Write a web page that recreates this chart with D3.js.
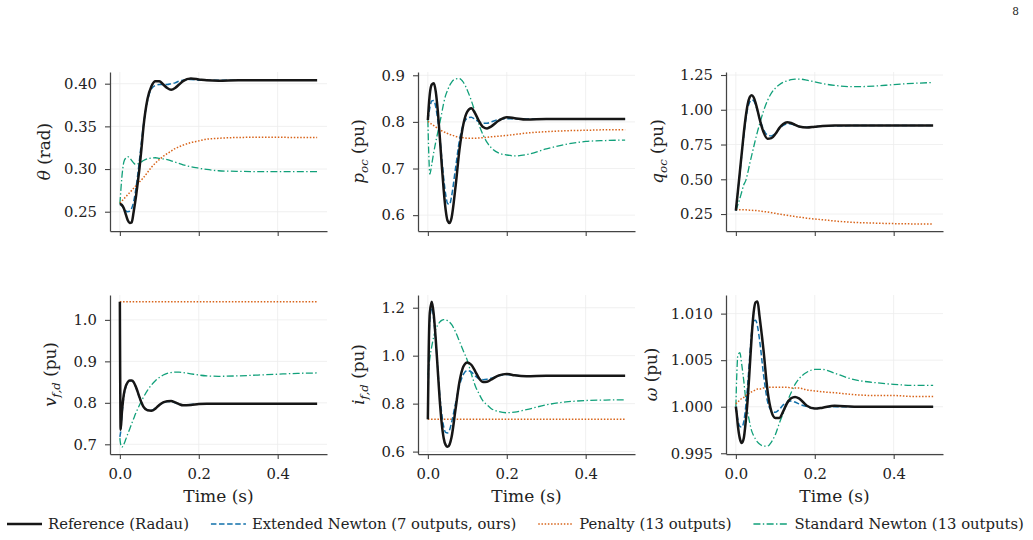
<!DOCTYPE html>
<html>
<head>
<meta charset="utf-8">
<script src="https://cdn.jsdelivr.net/npm/d3@7"></script>
<style>
body { margin: 0; background: #fff; }
svg { display: block; font-family: "DejaVu Serif", serif; }
</style>
</head>
<body>
<svg id="fig" width="1033" height="540"></svg>
<script>
// time grid (s)
let T = [0, 0.002, 0.005, 0.01, 0.015, 0.02, 0.025, 0.03, 0.035, 0.04, 0.045, 0.05, 0.055, 0.06,
         0.07, 0.08, 0.09, 0.1, 0.11, 0.12, 0.13, 0.14, 0.15, 0.16, 0.18, 0.2, 0.22, 0.25,
         0.3, 0.35, 0.4, 0.45, 0.5];

// theta (rad)
let thetaRef = [0.259, 0.2588, 0.258, 0.254, 0.247, 0.240, 0.2368, 0.2375, 0.25, 0.265, 0.283, 0.302, 0.325, 0.35,
                0.382, 0.397, 0.403, 0.403, 0.399, 0.395, 0.393, 0.395, 0.399, 0.403, 0.406, 0.405, 0.404, 0.4035,
                0.404, 0.404, 0.404, 0.404, 0.404];
let thetaExt = [0.259, 0.2585, 0.257, 0.254, 0.251, 0.25, 0.2505, 0.254, 0.262, 0.275, 0.292, 0.312, 0.333, 0.352,
                0.38, 0.394, 0.398, 0.399, 0.399, 0.399, 0.4, 0.401, 0.403, 0.404, 0.405, 0.404, 0.404, 0.404,
                0.404, 0.404, 0.404, 0.404, 0.404];
let thetaPen = [0.26, 0.261, 0.2625, 0.265, 0.2675, 0.27, 0.2725, 0.275, 0.2775, 0.28, 0.2825, 0.285, 0.2875, 0.29,
                0.296, 0.302, 0.307, 0.311, 0.315, 0.318, 0.321, 0.324, 0.326, 0.328, 0.331, 0.333, 0.335, 0.336,
                0.337, 0.3372, 0.3372, 0.337, 0.337];
let thetaStd = [0.259, 0.272, 0.29, 0.308, 0.313, 0.3145, 0.313, 0.31, 0.307, 0.3055, 0.306, 0.307, 0.3085, 0.31,
                0.312, 0.313, 0.3132, 0.3125, 0.3118, 0.311, 0.3095, 0.308, 0.3065, 0.305, 0.3027, 0.301, 0.2995, 0.298,
                0.2973, 0.297, 0.297, 0.297, 0.297];

// p_oc (pu)
let pRef = [0.804, 0.83, 0.86, 0.88, 0.883, 0.865, 0.825, 0.77, 0.71, 0.655, 0.612, 0.588, 0.583, 0.594,
            0.66, 0.74, 0.795, 0.822, 0.829, 0.818, 0.801, 0.789, 0.786, 0.79, 0.803, 0.81, 0.808, 0.805,
            0.806, 0.806, 0.806, 0.806, 0.806];
let pExt = [0.804, 0.815, 0.83, 0.845, 0.846, 0.832, 0.805, 0.77, 0.725, 0.68, 0.645, 0.625, 0.623, 0.64,
            0.7, 0.76, 0.795, 0.808, 0.81, 0.805, 0.8, 0.797, 0.797, 0.8, 0.805, 0.807, 0.806, 0.806,
            0.806, 0.806, 0.806, 0.806, 0.806];
let pPen = [0.801, 0.8, 0.798, 0.795, 0.792, 0.789, 0.786, 0.783, 0.781, 0.779, 0.777, 0.775, 0.773, 0.772,
            0.769, 0.767, 0.766, 0.765, 0.765, 0.765, 0.7655, 0.766, 0.767, 0.768, 0.7695, 0.771, 0.773, 0.776,
            0.779, 0.781, 0.782, 0.783, 0.783];
let pStd = [0.804, 0.74, 0.688, 0.71, 0.735, 0.757, 0.777, 0.797, 0.818, 0.84, 0.857, 0.868, 0.878, 0.885,
            0.892, 0.893, 0.885, 0.868, 0.846, 0.82, 0.793, 0.772, 0.756, 0.745, 0.733, 0.729, 0.727, 0.73,
            0.742, 0.752, 0.758, 0.76, 0.761];

// q_oc (pu)
let qRef = [0.275, 0.33, 0.41, 0.55, 0.69, 0.83, 0.95, 1.04, 1.09, 1.105, 1.09, 1.05, 0.995, 0.935,
            0.84, 0.792, 0.796, 0.825, 0.868, 0.898, 0.911, 0.905, 0.892, 0.879, 0.872, 0.878, 0.884, 0.886,
            0.886, 0.886, 0.886, 0.886, 0.886];
let qExt = [0.275, 0.33, 0.41, 0.54, 0.68, 0.81, 0.93, 1.01, 1.055, 1.072, 1.065, 1.035, 0.99, 0.94,
            0.86, 0.818, 0.812, 0.83, 0.862, 0.888, 0.899, 0.897, 0.888, 0.879, 0.874, 0.878, 0.883, 0.885,
            0.886, 0.886, 0.886, 0.886, 0.886];
let qPen = [0.282, 0.282, 0.2818, 0.2815, 0.281, 0.2805, 0.28, 0.279, 0.278, 0.277, 0.276, 0.275, 0.274, 0.272,
            0.268, 0.265, 0.26, 0.255, 0.25, 0.245, 0.241, 0.236, 0.232, 0.228, 0.22, 0.214, 0.209, 0.2,
            0.19, 0.185, 0.181, 0.179, 0.178];
let qStd = [0.275, 0.29, 0.318, 0.36, 0.41, 0.46, 0.49, 0.545, 0.61, 0.67, 0.73, 0.79, 0.845, 0.895,
            0.99, 1.065, 1.12, 1.155, 1.18, 1.198, 1.208, 1.216, 1.22, 1.221, 1.213, 1.2, 1.188, 1.175,
            1.166, 1.17, 1.181, 1.19, 1.196];

// v_f,d (pu)
let vRef = [1.044, 0.735, 0.775, 0.82, 0.84, 0.85, 0.854, 0.854, 0.85, 0.84, 0.827, 0.813, 0.8, 0.79,
            0.782, 0.781, 0.786, 0.795, 0.801, 0.804, 0.8045, 0.801, 0.797, 0.794, 0.795, 0.797, 0.798, 0.798,
            0.798, 0.798, 0.798, 0.798, 0.798];
let vExt = [0.718, 0.73, 0.768, 0.815, 0.838, 0.849, 0.853, 0.853, 0.849, 0.839, 0.826, 0.812, 0.8, 0.79,
            0.783, 0.782, 0.787, 0.795, 0.8, 0.803, 0.803, 0.8, 0.797, 0.795, 0.796, 0.797, 0.798, 0.798,
            0.798, 0.798, 0.798, 0.798, 0.798];
let vPen = [1.044, 1.044, 1.044, 1.044, 1.044, 1.044, 1.044, 1.044, 1.044, 1.044, 1.044, 1.044, 1.044, 1.044,
            1.044, 1.044, 1.044, 1.044, 1.044, 1.044, 1.044, 1.044, 1.044, 1.044, 1.044, 1.044, 1.044, 1.044,
            1.044, 1.044, 1.044, 1.044, 1.044];
let vStd = [0.715, 0.70, 0.693, 0.70, 0.712, 0.725, 0.737, 0.75, 0.762, 0.774, 0.785, 0.795, 0.805, 0.814,
            0.83, 0.843, 0.853, 0.861, 0.867, 0.871, 0.873, 0.874, 0.874, 0.873, 0.87, 0.867, 0.865, 0.864,
            0.865, 0.867, 0.869, 0.871, 0.872];

// i_f,d (pu)
let iRef = [0.735, 1.0, 1.18, 1.225, 1.17, 1.067, 0.942, 0.817, 0.72, 0.657, 0.628, 0.62, 0.63, 0.66,
            0.775, 0.89, 0.955, 0.972, 0.962, 0.935, 0.905, 0.89, 0.891, 0.9, 0.918, 0.924, 0.918, 0.914,
            0.916, 0.916, 0.916, 0.916, 0.916];
let iExt = [0.735, 0.98, 1.15, 1.2, 1.15, 1.06, 0.95, 0.84, 0.76, 0.705, 0.68, 0.678, 0.69, 0.72,
            0.8, 0.875, 0.922, 0.938, 0.932, 0.916, 0.904, 0.9, 0.902, 0.906, 0.916, 0.921, 0.918, 0.915,
            0.916, 0.916, 0.916, 0.916, 0.916];
let iPen = [0.735, 0.735, 0.735, 0.735, 0.735, 0.735, 0.735, 0.735, 0.735, 0.735, 0.735, 0.735, 0.735, 0.735,
            0.735, 0.735, 0.735, 0.735, 0.735, 0.735, 0.735, 0.735, 0.735, 0.735, 0.735, 0.735, 0.735, 0.735,
            0.735, 0.735, 0.735, 0.735, 0.735];
let iStd = [0.92, 0.95, 0.99, 1.04, 1.08, 1.11, 1.128, 1.14, 1.147, 1.15, 1.15, 1.146, 1.14, 1.13,
            1.1, 1.06, 1.02, 0.98, 0.925, 0.875, 0.84, 0.81, 0.795, 0.78, 0.767, 0.762, 0.765, 0.775,
            0.795, 0.807, 0.813, 0.815, 0.816];

// omega (pu)
let wRef = [1.0, 0.9993, 0.998, 0.9966, 0.9961, 0.9966, 0.9984, 1.0008, 1.0041, 1.0075, 1.0101, 1.0112, 1.0113, 1.0097,
            1.0061, 1.0018, 0.9995, 0.9988, 0.9988, 0.9995, 1.0004, 1.0009, 1.00105, 1.0009, 1.0001, 0.9998, 0.9999, 1.0001,
            1.0, 1.0, 1.0, 1.0, 1.0];
let wExt = [1.0, 0.9994, 0.9986, 0.9979, 0.9978, 0.9984, 1.0, 1.0024, 1.0053, 1.008, 1.0092, 1.0093, 1.0086, 1.0072,
            1.0035, 1.0006, 0.9996, 0.9994, 0.9997, 1.0002, 1.0005, 1.0006, 1.0005, 1.0003, 1.0, 0.9998, 0.9999, 1.0,
            1.0, 1.0, 1.0, 1.0, 1.0];
let wPen = [1.0003, 1.0004, 1.0005, 1.0007, 1.0009, 1.001, 1.0012, 1.0013, 1.0015, 1.0016, 1.0017, 1.0018, 1.0019, 1.0019,
            1.002, 1.0021, 1.0021, 1.0021, 1.0021, 1.0021, 1.0021, 1.002, 1.002, 1.002, 1.0018, 1.0017, 1.0016, 1.0015,
            1.0013, 1.0012, 1.0012, 1.0011, 1.0011];
let wStd = [1.0, 1.003, 1.0055, 1.0058, 1.0045, 1.0028, 1.0008, 0.9994, 0.9983, 0.9974, 0.9969, 0.9965, 0.9962, 0.996,
            0.99577, 0.99577, 0.9962, 0.997, 0.9982, 0.9993, 1.0005, 1.0015, 1.0024, 1.003, 1.0037, 1.004, 1.004, 1.0036,
            1.0029, 1.0026, 1.0024, 1.0023, 1.0023];

let xTicks = [0, 0.2, 0.4];
let legendNames = ['Reference (Radau)', 'Extended Newton (7 outputs, ours)', 'Penalty (13 outputs)', 'Standard Newton (13 outputs)'];

let panels = [
    {label: [['θ', 1], [' (rad)']], dom: [0.2274, 0.4137], ticks: [0.25, 0.30, 0.35, 0.40], fmt: '.2f',
     s: {ref: thetaRef, ext: thetaExt, pen: thetaPen, std: thetaStd}},
    {label: [['p', 1], ['oc', 1, 1], [' (pu)']], dom: [0.566, 0.907], ticks: [0.6, 0.7, 0.8, 0.9], fmt: '.1f',
     s: {ref: pRef, ext: pExt, pen: pPen, std: pStd}},
    {label: [['q', 1], ['oc', 1, 1], [' (pu)']], dom: [0.128, 1.2716], ticks: [0.25, 0.5, 0.75, 1.0, 1.25], fmt: '.2f',
     s: {ref: qRef, ext: qExt, pen: qPen, std: qStd}},
    {label: [['v', 1], ['f,d', 1, 1], [' (pu)']], dom: [0.6766, 1.060], ticks: [0.7, 0.8, 0.9, 1.0], fmt: '.1f',
     s: {ref: vRef, ext: vExt, pen: vPen, std: vStd}},
    {label: [['i', 1], ['f,d', 1, 1], [' (pu)']], dom: [0.590, 1.253], ticks: [0.6, 0.8, 1.0, 1.2], fmt: '.1f',
     s: {ref: iRef, ext: iExt, pen: iPen, std: iStd}},
    {label: [['ω', 1], [' (pu)']], dom: [0.99492, 1.0120], ticks: [0.995, 1.0, 1.005, 1.010], fmt: '.3f',
     s: {ref: wRef, ext: wExt, pen: wPen, std: wStd}}
];

let styles = {
    ref: {color: '#161616', width: 2.5, dash: null},
    ext: {color: '#1170aa', width: 1.5, dash: '5.5,2.6'},
    pen: {color: '#d8641a', width: 1.5, dash: '1.5,1.7'},
    std: {color: '#11a07a', width: 1.3, dash: '7,2.4,1.4,2.4'}
};
let legendKeys = ['ref', 'ext', 'pen', 'std'];
let drawOrder = ['std', 'pen', 'ext', 'ref'];

let colX = [110, 418, 726], rowY = [72, 295];
let pw = 217, ph = 159;
let spine = '#444';

let svg = d3.select('#fig');
let x = d3.scaleLinear().domain([-0.025, 0.525]).range([0, pw]);

svg.append('text').attr('x', 1019).attr('y', 15).attr('text-anchor', 'end')
    .attr('font-size', 10.5).attr('fill', '#222').text('8');

panels.forEach((p, k) => {
    let col = k % 3, row = Math.floor(k / 3);
    let g = svg.append('g').attr('transform', `translate(${colX[col]},${rowY[row]})`);
    let y = d3.scaleLinear().domain(p.dom).range([ph, 0]);

    // grid
    g.append('g').selectAll('line').data(xTicks).join('line')
        .attr('x1', d => x(d)).attr('x2', d => x(d)).attr('y1', 0).attr('y2', ph)
        .attr('stroke', '#ececec').attr('stroke-width', 0.8);
    g.append('g').selectAll('line').data(p.ticks).join('line')
        .attr('x1', 0).attr('x2', pw).attr('y1', d => y(d)).attr('y2', d => y(d))
        .attr('stroke', '#ececec').attr('stroke-width', 0.8);

    let line = d3.line().x((d, i) => x(T[i])).y(d => y(d)).curve(d3.curveMonotoneX);
    drawOrder.forEach(key => {
        let st = styles[key];
        g.append('path').datum(p.s[key]).attr('d', line)
            .attr('fill', 'none').attr('stroke', st.color).attr('stroke-width', st.width)
            .attr('stroke-dasharray', st.dash).attr('stroke-linejoin', 'round');
    });

    let ya = g.append('g').call(d3.axisLeft(y).tickValues(p.ticks).tickFormat(d3.format(p.fmt))
        .tickSize(5).tickSizeOuter(0).tickPadding(8));
    let xa = g.append('g').attr('transform', `translate(0,${ph})`)
        .call(d3.axisBottom(x).tickValues(xTicks).tickFormat(row ? d3.format('.1f') : () => '')
        .tickSize(5).tickSizeOuter(0).tickPadding(9));
    [ya, xa].forEach(a => {
        a.attr('font-family', null).attr('font-size', 14.8);
        a.select('.domain').attr('stroke', spine).attr('stroke-width', 1.25);
        a.selectAll('.tick line').attr('stroke', spine).attr('stroke-width', 1.1);
        a.selectAll('.tick text').attr('fill', '#222');
    });

    if (row) {
        g.append('text').attr('x', pw / 2).attr('y', ph + 48).attr('text-anchor', 'middle')
            .attr('font-size', 17).attr('fill', '#222').text('Time (s)');
    }

    // y label, placed left of the widest tick label
    let maxW = d3.max(ya.selectAll('.tick text').nodes(), n => n.getBBox().width);
    let lg = g.append('g');
    let lt = lg.append('text').attr('text-anchor', 'middle').attr('font-size', 16.8).attr('fill', '#222');
    p.label.forEach(([txt, it, sub]) => {
        let ts = lt.append('tspan').text(txt);
        if (it) ts.attr('font-style', 'italic');
        if (sub) ts.attr('font-size', 11.8).attr('dy', 4);
        else if (lt.selectAll('tspan').size() > 1 && p.label.some(d => d[2])) ts.attr('dy', -4);
    });
    let bb = lt.node().getBBox();
    let right = -(5 + 8 + maxW + 10);
    lg.attr('transform', `translate(${right - (bb.y + bb.height)},${ph / 2}) rotate(-90)`);
});

// legend
let lx = 7, ly = 524;
legendKeys.forEach((key, i) => {
    let st = styles[key];
    svg.append('line').attr('x1', lx).attr('x2', lx + 35).attr('y1', ly).attr('y2', ly)
        .attr('stroke', st.color).attr('stroke-width', st.width).attr('stroke-dasharray', st.dash);
    let t = svg.append('text').attr('x', lx + 41).attr('y', ly + 5).attr('font-size', 14.8)
        .attr('fill', '#222').text(legendNames[i]);
    lx = lx + 41 + t.node().getComputedTextLength() + 22;
});
</script>
</body>
</html>
